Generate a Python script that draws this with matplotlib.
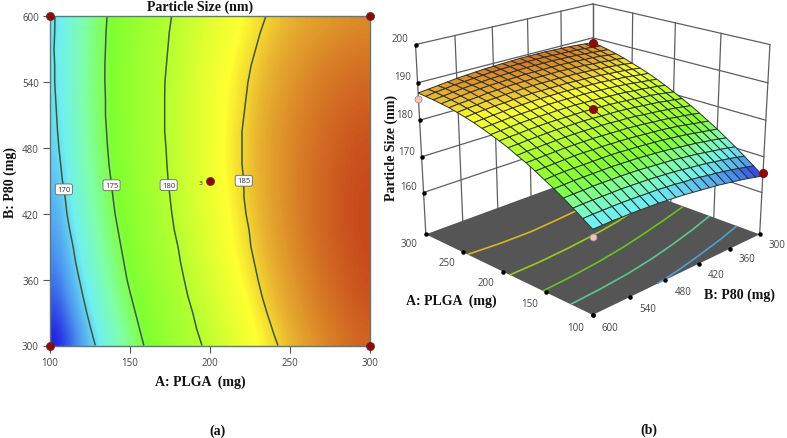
import numpy as np
import matplotlib
matplotlib.use('Agg')
import matplotlib.pyplot as plt
from matplotlib.colors import LinearSegmentedColormap, Normalize
from mpl_toolkits.mplot3d import proj3d

# axis values
plga = np.arange(100, 301, 10)
p80 = np.arange(300, 601, 15)
plga_ticks = [100, 150, 200, 250, 300]
p80_ticks = [300, 360, 420, 480, 540, 600]
size_ticks = [160, 170, 180, 190, 200]
contour_levels = [170, 175, 180, 185]

# particle size, rows = PLGA, columns = P80
size = np.array([
    [164.7,165.2,165.7,166.2,166.6,167.0,167.4,167.7,168.0,168.3,168.6,168.8,169.0,169.2,169.3,169.4,169.5,169.5,169.6,169.5,169.5],
    [166.6,167.1,167.6,168.1,168.5,168.9,169.2,169.6,169.9,170.1,170.4,170.6,170.8,170.9,171.0,171.1,171.2,171.2,171.2,171.2,171.1],
    [168.5,169.0,169.5,169.9,170.3,170.7,171.0,171.3,171.6,171.9,172.1,172.3,172.5,172.6,172.7,172.8,172.8,172.8,172.8,172.8,172.7],
    [170.3,170.8,171.2,171.6,172.0,172.4,172.7,173.0,173.3,173.5,173.7,173.9,174.1,174.2,174.3,174.3,174.4,174.4,174.3,174.3,174.2],
    [172.0,172.5,172.9,173.3,173.7,174.0,174.3,174.6,174.9,175.1,175.3,175.5,175.6,175.7,175.8,175.8,175.8,175.8,175.8,175.7,175.6],
    [173.7,174.1,174.5,174.9,175.3,175.6,175.9,176.2,176.4,176.6,176.8,176.9,177.1,177.2,177.2,177.2,177.2,177.2,177.2,177.1,176.9],
    [175.2,175.6,176.0,176.4,176.8,177.1,177.4,177.6,177.8,178.0,178.2,178.3,178.4,178.5,178.5,178.6,178.6,178.5,178.4,178.3,178.2],
    [176.7,177.1,177.5,177.8,178.2,178.5,178.7,179.0,179.2,179.4,179.5,179.6,179.7,179.8,179.8,179.8,179.8,179.7,179.6,179.5,179.4],
    [178.1,178.5,178.9,179.2,179.5,179.8,180.0,180.3,180.5,180.6,180.8,180.9,180.9,181.0,181.0,181.0,180.9,180.8,180.7,180.6,180.4],
    [179.4,179.8,180.1,180.5,180.8,181.0,181.3,181.5,181.7,181.8,181.9,182.0,182.1,182.1,182.1,182.1,182.0,181.9,181.8,181.6,181.5],
    [180.6,181.0,181.4,181.7,181.9,182.2,182.4,182.6,182.8,182.9,183.0,183.1,183.1,183.1,183.1,183.1,183.0,182.9,182.7,182.6,182.4],
    [181.8,182.2,182.5,182.8,183.0,183.3,183.5,183.6,183.8,183.9,184.0,184.1,184.1,184.1,184.0,184.0,183.9,183.8,183.6,183.4,183.2],
    [182.9,183.2,183.5,183.8,184.1,184.3,184.5,184.6,184.8,184.9,184.9,185.0,185.0,185.0,184.9,184.8,184.7,184.6,184.4,184.2,184.0],
    [183.9,184.2,184.5,184.8,185.0,185.2,185.4,185.5,185.6,185.7,185.8,185.8,185.8,185.8,185.7,185.6,185.5,185.3,185.1,184.9,184.7],
    [184.8,185.1,185.4,185.6,185.8,186.0,186.2,186.3,186.4,186.5,186.5,186.5,186.5,186.5,186.4,186.3,186.1,186.0,185.8,185.6,185.3],
    [185.6,185.9,186.2,186.4,186.6,186.8,186.9,187.1,187.1,187.2,187.2,187.2,187.2,187.1,187.0,186.9,186.7,186.6,186.3,186.1,185.8],
    [186.4,186.7,186.9,187.1,187.3,187.5,187.6,187.7,187.8,187.8,187.8,187.8,187.7,187.7,187.6,187.4,187.3,187.0,186.8,186.6,186.3],
    [187.1,187.3,187.6,187.8,187.9,188.1,188.2,188.3,188.3,188.3,188.3,188.3,188.2,188.1,188.0,187.9,187.7,187.5,187.2,186.9,186.6],
    [187.7,187.9,188.1,188.3,188.5,188.6,188.7,188.8,188.8,188.8,188.8,188.7,188.6,188.5,188.4,188.2,188.0,187.8,187.5,187.2,186.9],
    [188.2,188.4,188.6,188.8,188.9,189.0,189.1,189.2,189.2,189.2,189.2,189.1,189.0,188.9,188.7,188.5,188.3,188.1,187.8,187.5,187.1],
    [188.6,188.8,189.0,189.2,189.3,189.4,189.5,189.5,189.5,189.5,189.4,189.3,189.2,189.1,188.9,188.7,188.5,188.2,187.9,187.6,187.3],
])

# the contours on the floor of the 3D plot sit elsewhere, so they get their own table
floor_plga = [100, 125, 150, 175, 200, 225, 250, 275, 300]
floor_p80 = [300, 350, 400, 450, 500, 550, 600]
floor_size = np.array([
    [160.5,162.0,163.2,164.3,165.1,165.6,166.0],
    [165.1,166.5,167.7,168.7,169.5,170.0,170.3],
    [169.2,170.6,171.8,172.9,173.7,174.2,174.5],
    [173.3,174.6,175.7,176.6,177.2,177.6,177.9],
    [177.5,178.6,179.6,180.2,180.7,181.0,181.0],
    [180.8,181.8,182.5,183.0,183.4,183.4,183.3],
    [184.0,184.8,185.4,185.7,185.9,185.8,185.5],
    [186.2,186.9,187.4,187.6,187.6,187.4,187.0],
    [188.0,188.6,188.9,189.0,188.9,188.6,188.0],
])
floor_levels = [165, 170, 175, 180, 185]
floor_colors = ['#4aa0d8', '#58c890', '#66c41e', '#9ccc20', '#d8b428']

# design points
corner_plga = [100, 300, 100, 300]
corner_p80 = [300, 300, 600, 600]
center_plga, center_p80 = 200, 450

cmap = LinearSegmentedColormap.from_list('rs', [
    (0.00, '#2020e0'), (0.10, '#4a90f0'), (0.21, '#70f0f0'), (0.31, '#80ffa8'),
    (0.42, '#80ff30'), (0.62, '#b8ff30'), (0.78, '#ffff30'), (0.86, '#e8b030'),
    (1.00, '#c84a1c')])
norm = Normalize(164.7, 189.5)
norm3 = Normalize(164.7, 191)

W, H = 787, 439
serif = 'Liberation Serif'
tick_font = 'Open Sans'
fig = plt.figure(figsize=(W / 100, H / 100), dpi=100)

# (a) contour plot
ax = fig.add_axes([50 / W, 1 - 346.5 / H, 320 / W, 329.5 / H])
ax.imshow(size.T, origin='lower', extent=[100, 300, 300, 600], aspect='auto',
          cmap=cmap, norm=norm, interpolation='bicubic')
cs = ax.contour(plga, p80, size.T, levels=contour_levels, colors='#3c5a3c', linewidths=1.1)
labels = ax.clabel(cs, fmt='%d', fontsize=5.5, colors='#333333', inline=False,
                   manual=[(108, 442), (139, 446), (174, 446), (221, 450)])
for t in labels:
    t.set_bbox(dict(boxstyle='round,pad=0.25', fc='white', ec='#666666', lw=0.6))
    t.set_rotation(0)
    t.set_family(tick_font)
ax.scatter(corner_plga + [center_plga], corner_p80 + [center_p80], s=34, color='#8b0a0a',
           edgecolors='#5a3030', linewidths=0.5, zorder=5, clip_on=False)
ax.text(center_plga - 6, center_p80 - 2, '3', fontsize=4.5, ha='center', va='center', color='#333333')
ax.set_xlim(100, 300)
ax.set_ylim(300, 600)
ax.set_xticks(plga_ticks)
ax.set_yticks(p80_ticks)
ax.tick_params(length=5, width=0.8, color='#555555', labelsize=7, labelcolor='#444444', pad=3)
for t in ax.get_xticklabels() + ax.get_yticklabels():
    t.set_family(tick_font)
for s in ax.spines.values():
    s.set_color('#5a7a80')
    s.set_linewidth(1.0)

# (b) response surface
ax3 = fig.add_axes([394 / W, 71 / H, 387 / W, 1], projection='3d', computed_zorder=False)
ax3.set_proj_type('persp', focal_length=0.55)
ax3.view_init(elev=20, azim=135)
ax3.set_box_aspect((1, 1, 0.83), zoom=1.0)
ax3.set_axis_off()
ax3.set_xlim(100, 300)
ax3.set_ylim(300, 600)
z0 = 148
ax3.set_zlim(z0, 200)
ax3.set_xticks([])
ax3.set_yticks([])
ax3.set_zticks([])

gx, gy = np.meshgrid([100, 300], [300, 600], indexing='ij')
ax3.plot_surface(gx, gy, np.full(gx.shape, z0), color='#555555', shade=False, linewidth=0, zorder=1)
wall = dict(color='#5e5e5e', lw=0.9, zorder=1.5)
for z in size_ticks:
    ax3.plot([300, 300], [300, 600], [z, z], **wall)
    ax3.plot([100, 300], [300, 300], [z, z], **wall)
for b in p80_ticks:
    ax3.plot([300, 300], [b, b], [z0, 200], **wall)
for a in plga_ticks:
    ax3.plot([a, a], [300, 300], [z0, 200], **wall)

ax3.contour(np.array(floor_plga), np.array(floor_p80), floor_size.T, levels=floor_levels,
            zdir='z', offset=z0, colors=floor_colors, linewidths=1.2, zorder=2)

AA, BB = np.meshgrid(plga, p80, indexing='ij')
ax3.plot_surface(AA, BB, size, rstride=1, cstride=1, cmap=cmap, norm=norm3, shade=False,
                 edgecolor='#2a332a', linewidth=0.7, zorder=3)

ax3.scatter([300, 200, 100], [300, 450, 300], [188.6, 183, 165.5], s=30, color='#8b0a0a',
            depthshade=False, zorder=5)
ax3.scatter([300, 100], [600, 600], [185.7, 167.5], s=26, color='#f0c4bc', edgecolors='#a08080',
            linewidths=0.5, depthshade=False, zorder=5)
ax3.scatter(plga_ticks, [600] * 5, [z0] * 5, s=5, color='black', depthshade=False, zorder=4)
ax3.scatter([100] * 6, p80_ticks, [z0] * 6, s=5, color='black', depthshade=False, zorder=4)
ax3.scatter([300] * 5, [600] * 5, size_ticks, s=5, color='black', depthshade=False, zorder=4)

tick3 = dict(fontsize=7, color='#444444', family=tick_font, ha='center', va='center')
proj = ax3.get_proj()
def text3(a, b, z, s):
    x2, y2, _ = proj3d.proj_transform(a, b, z, proj)
    ax3.text2D(x2, y2, s, transform=ax3.transData, **tick3)
for a in plga_ticks:
    text3(a, 626, z0 - 1, str(a))
for b in p80_ticks:
    text3(82, b, z0 - 1, str(b))
for z in size_ticks:
    text3(309, 612, z + 1.5, str(z))

# labels
lab = dict(family=serif, fontweight='bold', ha='center', va='center', color='#111111')
def px(x, y, s, size_pt=10, **kw):
    fig.text(x / W, 1 - y / H, s, fontsize=size_pt, **lab, **kw)
px(200, 7, 'Particle Size (nm)')
px(200, 382, 'A: PLGA  (mg)')
px(10, 183, 'B: P80 (mg)', rotation=90)
px(391, 148, 'Particle Size (nm)', rotation=90)
px(451, 301, 'A: PLGA  (mg)')
px(739, 295, 'B: P80 (mg)')
px(217, 431, '(a)')
px(649, 430, '(b)')

fig.savefig('out.png', dpi=100)
